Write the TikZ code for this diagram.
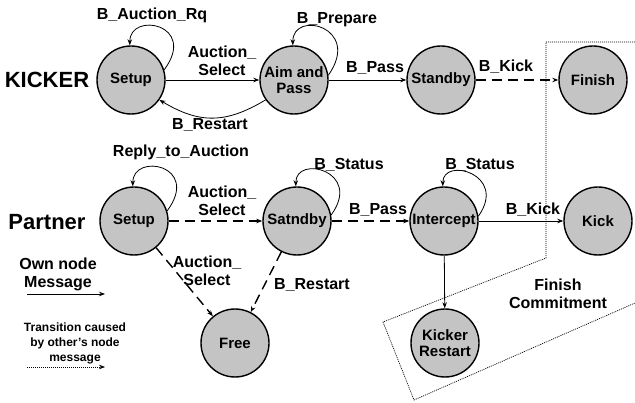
\documentclass[tikz,border=0pt]{standalone}
\usepackage{fontspec}
\setmainfont{Liberation Sans}
\usetikzlibrary{arrows.meta}
\definecolor{stfill}{RGB}{196,196,196}
\tikzset{
  st/.style={circle,draw=black,line width=1.4pt,fill=stfill,minimum size=68pt,inner sep=0pt,font=\fontsize{15}{16}\selectfont\bfseries,align=center},
  lbl/.style={font=\fontsize{16}{18}\selectfont\bfseries,align=center,inner sep=0pt},
  big/.style={font=\fontsize{22}{24}\selectfont\bfseries,inner sep=0pt},
  tip/.style={-{Stealth[length=6pt,width=4.5pt]}},
  own/.style={tip,line width=0.8pt},
  oth/.style={tip,line width=1.4pt,dash pattern=on 10pt off 6pt},
  bnd/.style={line width=0.7pt,dash pattern=on 1pt off 1pt}
}
\begin{document}
\begin{tikzpicture}[x=1pt,y=-1pt]
\useasboundingbox (0,0) rectangle (635,403);
% boundary
\draw[bnd] (635,42) -- (546,42) -- (546,258) -- (383,322) -- (414,400) -- (635,303);
% kicker row
\node[big] (kk) at (47,80) {KICKER};
\node[st] (s1) at (131,80) {Setup};
\node[st] (a1) at (294,80) {Aim and\\Pass};
\node[st] (sb1) at (441,80) {Standby};
\node[st] (f1) at (593,80) {Finish};
% partner row
\node[big] (pp) at (47,222) {Partner};
\node[st] (s2) at (134,221) {Setup};
\node[st] (sb2) at (297,221) {Satndby};
\node[st] (ic) at (444,221) {Intercept};
\node[st] (k2) at (598,221) {Kick};
\node[st] (fr) at (235,343) {Free};
\node[st] (kr) at (445,343) {Kicker\\Restart};
% kicker edges
\draw[own] (s1.17) .. controls +(34,-46) and +(0,-34) .. (s1.92);
\node[lbl] (l1) at (152,15) {B\_Auction\_Rq};
\draw[own] (s1) -- (a1);
\node[lbl] (l2) at (222,61) {Auction\_\\Select};
\draw[own] (a1.215) .. controls +(-40,24) and +(40,24) .. (s1.-35);
\node[lbl] (l3) at (210,125) {B\_Restart};
\draw[own] (a1.8) .. controls +(34,-48) and +(0,-36) .. (a1.92);
\node[lbl] (l4) at (337,20) {B\_Prepare};
\draw[own] (a1) -- (sb1);
\node[lbl] (l5) at (375,68) {B\_Pass};
\draw[oth] (sb1) -- (f1);
\node[lbl] (l6) at (506,67) {B\_Kick};
% partner edges
\draw[own] (s2.17) .. controls +(34,-46) and +(0,-34) .. (s2.92);
\node[lbl] (l7) at (181,152) {Reply\_to\_Auction};
\draw[oth] (s2) -- (sb2);
\node[lbl] (l8) at (222,201) {Auction\_\\Select};
\draw[own] (sb2.10) .. controls +(32,-44) and +(0,-32) .. (sb2.92);
\node[lbl] (l9) at (349,165) {B\_Status};
\draw[oth] (sb2) -- (ic);
\node[lbl] (l10) at (378,210) {B\_Pass};
\draw[own] (ic.8) .. controls +(30,-42) and +(0,-30) .. (ic.92);
\node[lbl] (l11) at (480,165) {B\_Status};
\draw[own] (ic) -- (k2);
\node[lbl] (l12) at (533,210) {B\_Kick};
\draw[own] (ic) -- (kr);
\draw[oth] (s2) -- (fr);
\node[lbl] (l13) at (207,271) {Auction\_\\Select};
\draw[oth] (sb2) -- (fr);
\node[lbl] (l14) at (312,285) {B\_Restart};
\node[lbl] (l15) at (558,294) {Finish\\Commitment};
% legend
\node[lbl] (lg1) at (58,274) {Own node\\Message};
\coordinate (o1) at (27,294);
\coordinate (o2) at (105,294);
\draw[own] (o1) -- (o2);
\node[lbl,font=\fontsize{12}{15}\selectfont\bfseries] (lg2) at (75,343) {Transition caused\\by other's node\\message};
\coordinate (d1) at (27,367);
\coordinate (d2) at (105,367);
\draw[tip,line width=0.7pt,dash pattern=on 1pt off 1pt] (d1) -- (d2);
\end{tikzpicture}
\end{document}
